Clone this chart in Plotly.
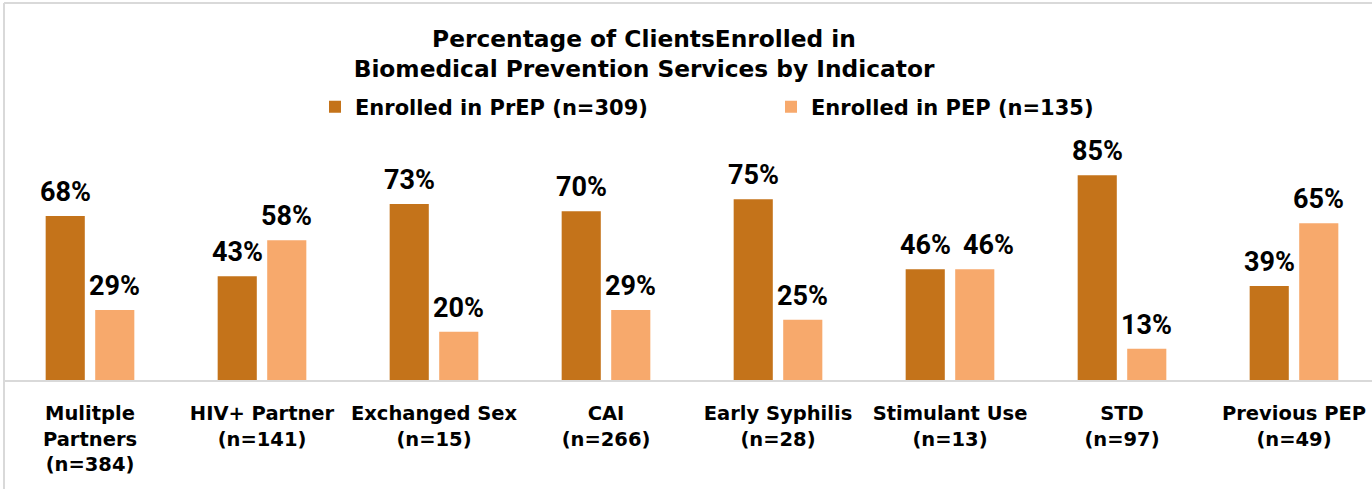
import plotly.graph_objects as go

categories = ["Mulitple<br>Partners<br>(n=384)", "HIV+ Partner<br>(n=141)", "Exchanged Sex<br>(n=15)",
              "CAI<br>(n=266)", "Early Syphilis<br>(n=28)", "Stimulant Use<br>(n=13)",
              "STD<br>(n=97)", "Previous PEP<br>(n=49)"]
prep = [68, 43, 73, 70, 75, 46, 85, 39]
pep = [29, 58, 20, 29, 25, 46, 13, 65]
series_names = ["Enrolled in PrEP (n=309)", "Enrolled in PEP (n=135)"]
title_text = "Percentage of ClientsEnrolled in<br>Biomedical Prevention Services by Indicator"

FONT = "DejaVu Sans"
LABEL_FONT = "Roboto"
C_PREP = "#C4731A"
C_PEP = "#F7A96C"

W, H = 1372, 489
ml, mr, mt, mb = 4, 0, 139, 109
plot_w = W - ml - mr
cat_w = 172.0
plot_h = H - mt - mb
bargap, bargroupgap = 0.424, 0.21
slot = cat_w * (1 - bargap) / 2  # pixel distance between the two bars of a group

fig = go.Figure()
for name, vals, col in [(series_names[0], prep, C_PREP), (series_names[1], pep, C_PEP)]:
    fig.add_trace(go.Bar(
        x=categories, y=vals, name=name, marker=dict(color=col, line=dict(width=0)),
        hoverinfo="skip",
    ))

annotations = []
for si, (vals, shift) in enumerate([(prep, -slot / 2), (pep, slot / 2)]):
    for ci, (c, v) in enumerate(zip(categories, vals)):
        # nudge the second label apart where the two labels of a group would collide
        nudge = 14 if (si == 1 and prep[ci] == v) else 0
        annotations.append(dict(
            x=c, y=v, xref="x", yref="y", text=f"{v}%", showarrow=False,
            xshift=shift + nudge, yshift=6, yanchor="bottom", xanchor="center",
            font=dict(family=LABEL_FONT, size=27, color="black", weight="bold"),
        ))

fig.update_layout(
    width=W, height=H,
    margin=dict(l=ml, r=mr, t=mt, b=mb, pad=0),
    paper_bgcolor="white", plot_bgcolor="white",
    barmode="group", bargap=bargap, bargroupgap=bargroupgap,
    title=dict(text=title_text, x=644 / W, xanchor="center", xref="container",
               y=1 - 46.5 / H, yanchor="middle", yref="container",
               font=dict(family=FONT, size=23.3, color="black", weight="bold")),
    legend=dict(orientation="h", x=(315 - ml) / plot_w, xanchor="left",
                y=(H - mb - 107) / plot_h, yanchor="middle",
                entrywidth=411, entrywidthmode="pixels",
                font=dict(family=FONT, size=21, color="black", weight="bold"),
                bgcolor="rgba(0,0,0,0)"),
    xaxis=dict(range=[-0.5, -0.5 + plot_w / cat_w], showline=True, linecolor="#d9d9d9", linewidth=2,
               showgrid=False, ticks="", ticklabelstandoff=15,
               tickfont=dict(family=FONT, size=19.5, color="black", weight="bold"), fixedrange=True),
    yaxis=dict(range=[0, 100], visible=False, showgrid=False, fixedrange=True),
    showlegend=True,
    annotations=annotations,
)

top_y = (H - mb - 3) / plot_h
bot_y = -(mb) / plot_h
fig.add_shape(type="line", xref="paper", yref="paper", x0=0, x1=0, y0=bot_y, y1=top_y,
              line=dict(color="#d9d9d9", width=2))
fig.add_shape(type="line", xref="paper", yref="paper", x0=0, x1=1.01, y0=top_y, y1=top_y,
              line=dict(color="#d9d9d9", width=2))

fig.write_html("out.html", config={"displayModeBar": False},
               post_script="document.body.style.margin='0';document.body.style.padding='0';")
